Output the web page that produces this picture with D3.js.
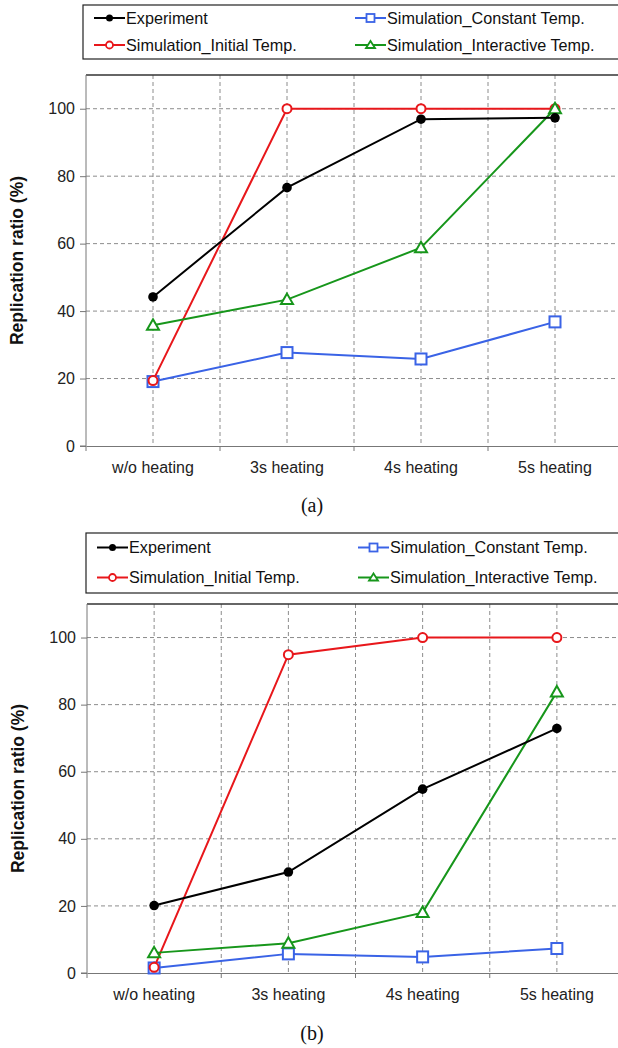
<!DOCTYPE html>
<html>
<head>
<meta charset="utf-8">
<script src="https://cdn.jsdelivr.net/npm/d3@7"></script>
<style>
  body { margin: 0; background: #fff; }
  svg { display: block; font-family: "Liberation Sans", Arial, sans-serif; }
</style>
</head>
<body>
<svg id="chart" width="618" height="1048"></svg>
<script>
// categories + tick values shared by both panels
const categories = ["w/o heating", "3s heating", "4s heating", "5s heating"];
const yTicks = [0, 20, 40, 60, 80, 100];

// series names, in legend order
const seriesNames = ["Experiment", "Simulation_Constant Temp.", "Simulation_Initial Temp.", "Simulation_Interactive Temp."];

// panel (a)
const expA = [44.2, 76.6, 96.9, 97.3];
const initA = [19.4, 100, 100, 100];
const constA = [19.1, 27.7, 25.8, 36.8];
const interA = [35.8, 43.4, 58.8, 100];

// panel (b)
const expB = [20.1, 30.1, 54.8, 72.9];
const initB = [1.7, 94.9, 100, 100];
const constB = [1.5, 5.7, 4.8, 7.3];
const interB = [6.0, 8.9, 18.0, 83.8];

const colors = {
  "Experiment": "#000000",
  "Simulation_Initial Temp.": "#e8171b",
  "Simulation_Constant Temp.": "#3a63e6",
  "Simulation_Interactive Temp.": "#17961b"
};
const markers = {
  "Experiment": "dot",
  "Simulation_Initial Temp.": "circle",
  "Simulation_Constant Temp.": "square",
  "Simulation_Interactive Temp.": "triangle"
};

const svg = d3.select("#chart");

function drawMarker(g, type, cx, cy, color) {
  if (type === "dot") {
    g.append("circle").attr("cx", cx).attr("cy", cy).attr("r", 4.8).attr("fill", color);
  } else if (type === "circle") {
    g.append("circle").attr("cx", cx).attr("cy", cy).attr("r", 4.5)
      .attr("fill", "#fff").attr("stroke", color).attr("stroke-width", 2);
  } else if (type === "square") {
    g.append("rect").attr("x", cx - 5.5).attr("y", cy - 5.5).attr("width", 11).attr("height", 11)
      .attr("fill", "#fff").attr("stroke", color).attr("stroke-width", 2);
  } else {
    const s = 6;
    g.append("path")
      .attr("d", `M${cx},${cy - s} L${cx + s},${cy + s * 0.75} L${cx - s},${cy + s * 0.75} Z`)
      .attr("fill", "#fff").attr("stroke", color).attr("stroke-width", 2);
  }
}

function drawLegend(lx, top, bottom) {
  const g = svg.append("g");
  g.append("rect").attr("x", lx).attr("y", top).attr("width", 640 - lx).attr("height", bottom - top)
    .attr("fill", "#fff").attr("stroke", "#222").attr("stroke-width", 1.2);
  const rowH = (bottom - top) / 2;
  const cols = [lx + 11, lx + 272];
  seriesNames.forEach((name, i) => {
    const col = cols[i % 2];
    const cy = top + rowH * (Math.floor(i / 2) + 0.5) - 0.5;
    const c = colors[name];
    g.append("line").attr("x1", col).attr("x2", col + 31).attr("y1", cy).attr("y2", cy)
      .attr("stroke", c).attr("stroke-width", 2);
    const m = g.append("g");
    if (markers[name] === "dot") {
      m.append("circle").attr("cx", col + 15.5).attr("cy", cy).attr("r", 3.5).attr("fill", c);
    } else if (markers[name] === "circle") {
      m.append("circle").attr("cx", col + 15.5).attr("cy", cy).attr("r", 3.5)
        .attr("fill", "#fff").attr("stroke", c).attr("stroke-width", 1.8);
    } else if (markers[name] === "square") {
      m.append("rect").attr("x", col + 11.5).attr("y", cy - 4).attr("width", 8).attr("height", 8)
        .attr("fill", "#fff").attr("stroke", c).attr("stroke-width", 1.8);
    } else {
      m.append("path").attr("d", `M${col + 15.5},${cy - 4} L${col + 20},${cy + 3} L${col + 11},${cy + 3} Z`)
        .attr("fill", "#fff").attr("stroke", c).attr("stroke-width", 1.8);
    }
    g.append("text").attr("x", col + 32).attr("y", cy + 5.8)
      .attr("font-size", 16.2).attr("fill", "#111").text(name);
  });
}

function drawPanel(cfg) {
  const x = d3.scaleBand().domain(categories).range([cfg.left, cfg.right]).padding(0);
  const y = d3.scaleLinear().domain([0, 110]).range([cfg.bottom, cfg.top]);
  const cx = d => x(d) + x.bandwidth() / 2;
  const g = svg.append("g");

  // grid
  const grid = g.append("g").attr("stroke", "#8c8c8c").attr("stroke-width", 1).attr("stroke-dasharray", "4,3");
  yTicks.filter(t => t > 0).forEach(t => {
    grid.append("line").attr("x1", cfg.left).attr("x2", cfg.right).attr("y1", y(t)).attr("y2", y(t));
  });
  categories.forEach((c, i) => {
    grid.append("line").attr("x1", cx(c)).attr("x2", cx(c)).attr("y1", cfg.top).attr("y2", cfg.bottom);
    if (i > 0) grid.append("line").attr("x1", x(c)).attr("x2", x(c)).attr("y1", cfg.top).attr("y2", cfg.bottom);
  });

  // frame
  g.append("line").attr("x1", cfg.left).attr("x2", cfg.right).attr("y1", cfg.top).attr("y2", cfg.top)
    .attr("stroke", "#333").attr("stroke-width", 1.5);

  // axes
  const yAxis = d3.axisLeft(y).tickValues(yTicks).tickSize(6).tickPadding(5);
  const ya = g.append("g").attr("transform", `translate(${cfg.left},0)`).call(yAxis);
  ya.select(".domain").attr("stroke", "#777").attr("d", `M-6,${cfg.bottom}H0V${cfg.top}`);
  ya.selectAll(".tick line").attr("stroke", "#777");
  ya.selectAll("text").attr("font-size", 16).attr("fill", "#222").attr("font-family", "Liberation Sans, Arial, sans-serif");

  const xa = g.append("g").attr("transform", `translate(0,${cfg.bottom})`)
    .call(d3.axisBottom(x).tickSize(0).tickPadding(16));
  xa.select(".domain").attr("stroke", "#777");
  xa.selectAll("text").attr("font-size", 16).attr("fill", "#222").attr("font-family", "Liberation Sans, Arial, sans-serif");
  categories.forEach(c => {
    g.append("line").attr("x1", x(c)).attr("x2", x(c)).attr("y1", cfg.bottom).attr("y2", cfg.bottom + 5)
      .attr("stroke", "#777");
  });

  // y label
  g.append("text")
    .attr("transform", `translate(${cfg.left - 63},${(cfg.top + cfg.bottom) / 2}) rotate(-90)`)
    .attr("text-anchor", "middle").attr("font-weight", "bold").attr("font-size", 17.5).attr("fill", "#111")
    .text("Replication ratio (%)");

  // series, back to front
  const order = ["Simulation_Constant Temp.", "Simulation_Initial Temp.", "Simulation_Interactive Temp.", "Experiment"];
  const line = d3.line().x((d, i) => cx(categories[i])).y(d => y(d));
  order.forEach(name => {
    const vals = cfg.data[name];
    const sg = g.append("g");
    sg.append("path").attr("d", line(vals)).attr("fill", "none")
      .attr("stroke", colors[name]).attr("stroke-width", 2);
    vals.forEach((v, i) => drawMarker(sg, markers[name], cx(categories[i]), y(v), colors[name]));
  });

  // caption
  g.append("text").attr("x", 312).attr("y", cfg.captionY)
    .attr("text-anchor", "middle").attr("font-family", "Liberation Serif, Times New Roman, serif")
    .attr("font-size", 20).attr("fill", "#111").text(cfg.caption);
}

drawLegend(83, 5, 59);
drawPanel({
  left: 86, right: 622, top: 75, bottom: 446, captionY: 512, caption: "(a)",
  data: {
    "Experiment": expA, "Simulation_Initial Temp.": initA,
    "Simulation_Constant Temp.": constA, "Simulation_Interactive Temp.": interA
  }
});

drawLegend(86, 533, 593);
drawPanel({
  left: 87, right: 624, top: 604, bottom: 973, captionY: 1040, caption: "(b)",
  data: {
    "Experiment": expB, "Simulation_Initial Temp.": initB,
    "Simulation_Constant Temp.": constB, "Simulation_Interactive Temp.": interB
  }
});
</script>
</body>
</html>
